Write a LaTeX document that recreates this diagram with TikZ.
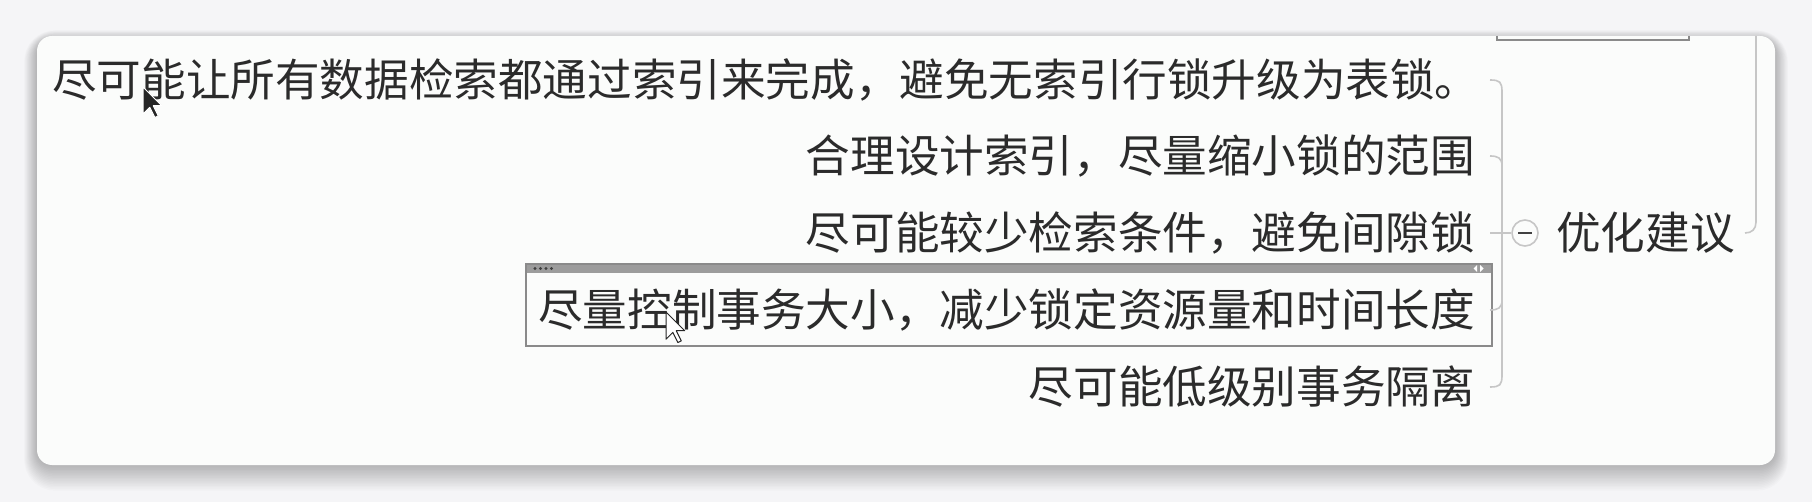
\documentclass[tikz,border=0pt]{standalone}
\usepackage{fontspec}
\newfontfamily\cjk{Noto Sans CJK SC}
\definecolor{bgc}{HTML}{F5F5F7}
\definecolor{panelc}{HTML}{FBFCFB}
\definecolor{textc}{HTML}{2B2B2B}
\definecolor{linec}{HTML}{C6C6C6}
\definecolor{boxc}{HTML}{8A8A8A}
\definecolor{barc}{HTML}{9C9C9C}
\tikzset{
  txt/.style={font=\cjk\fontsize{44.6}{44.6}\selectfont, text=textc, inner sep=0pt, text height=39.2pt, text depth=5.4pt},
  brk/.style={draw=linec, line width=1.6pt},
  cursorpoly/.style={line width=1pt, line join=round},
}
\begin{document}
\begin{tikzpicture}[x=1pt,y=-1pt]
\useasboundingbox (0,0) rectangle (1812,502);
\fill[bgc] (0,0) rectangle (1812,502);
% shadow
\foreach \i in {1,...,16}{
  \fill[black, opacity=0.016, rounded corners=15pt+\i pt] (37-\i*0.8,36-\i*0.6+4) rectangle (1775+\i*0.8,465+\i*1.6);
}
% panel
\fill[panelc, rounded corners=15pt] (37,36) rectangle (1775,465);
% partial box at top
\draw[boxc, line width=2.2pt] (1497,36) -- (1497,40) -- (1689,40) -- (1689,36);
% texts
\node[txt, anchor=west] (l1) at (52,80) {尽可能让所有数据检索都通过索引来完成，避免无索引行锁升级为表锁。};
\node[txt, anchor=east] (l2) at (1475,156) {合理设计索引，尽量缩小锁的范围};
\node[txt, anchor=east] (l3) at (1475,233) {尽可能较少检索条件，避免间隙锁};
\node[txt, anchor=east] (l4) at (1475,310) {尽量控制事务大小，减少锁定资源量和时间长度};
\node[txt, anchor=east] (l5) at (1475,387) {尽可能低级别事务隔离};
\node[txt, anchor=west] (root) at (1556,233) {优化建议};
% selection box around l4
\fill[barc] (526,264) rectangle (1492,273);
\draw[boxc, line width=2.8pt] (526,264) rectangle (1492,346);
\foreach \d in {0,...,3}{ \fill[black!75] (535+\d*5.5,268.5) circle (1.6pt); }
\fill[white] (1477,265) -- (1477,272) -- (1473.5,268.5) -- cycle;
\fill[white] (1480,265) -- (1480,272) -- (1483.5,268.5) -- cycle;
% bracket
\coordinate (bt) at (1490,80);
\coordinate (bb) at (1490,387);
\draw[brk] (bt) .. controls (1500,80) and (1502,82) .. (1502,92) -- (1502,375) .. controls (1502,385) and (1500,387) .. (bb);
\draw[brk] (1490,156) .. controls (1498,156) and (1502,158) .. (1502,166);
\draw[brk] (1490,310) .. controls (1498,310) and (1502,308) .. (1502,300);
% circle with minus
\node[circle, draw=linec, line width=1.6pt, minimum size=26pt, inner sep=0pt] (mc) at (1525,233) {};
\draw[brk] (1490,233) -- (mc.west);
\draw[black!75, line width=2.4pt] (1518,233) -- (1532,233);
% right bracket
\coordinate (rt) at (1756,36);
\coordinate (rb) at (1745,233);
\draw[brk] (rt) -- (1756,222) .. controls (1756,229) and (1752,233) .. (rb);
% cursor 1 (black)
\begin{scope}[shift={(143,87)}, scale=1.7]
\draw[cursorpoly, fill=black!85, draw=white] (0,0) -- (0,16) -- (4,12) -- (7,18) -- (9,17) -- (6,11) -- (11,11) -- cycle;
\end{scope}
% cursor 2 (white)
\begin{scope}[shift={(666,312)}, scale=1.7]
\draw[cursorpoly, fill=white, draw=black!85] (0,0) -- (0,16) -- (4,12) -- (7,18) -- (9,17) -- (6,11) -- (11,11) -- cycle;
\end{scope}
\end{tikzpicture}
\end{document}
